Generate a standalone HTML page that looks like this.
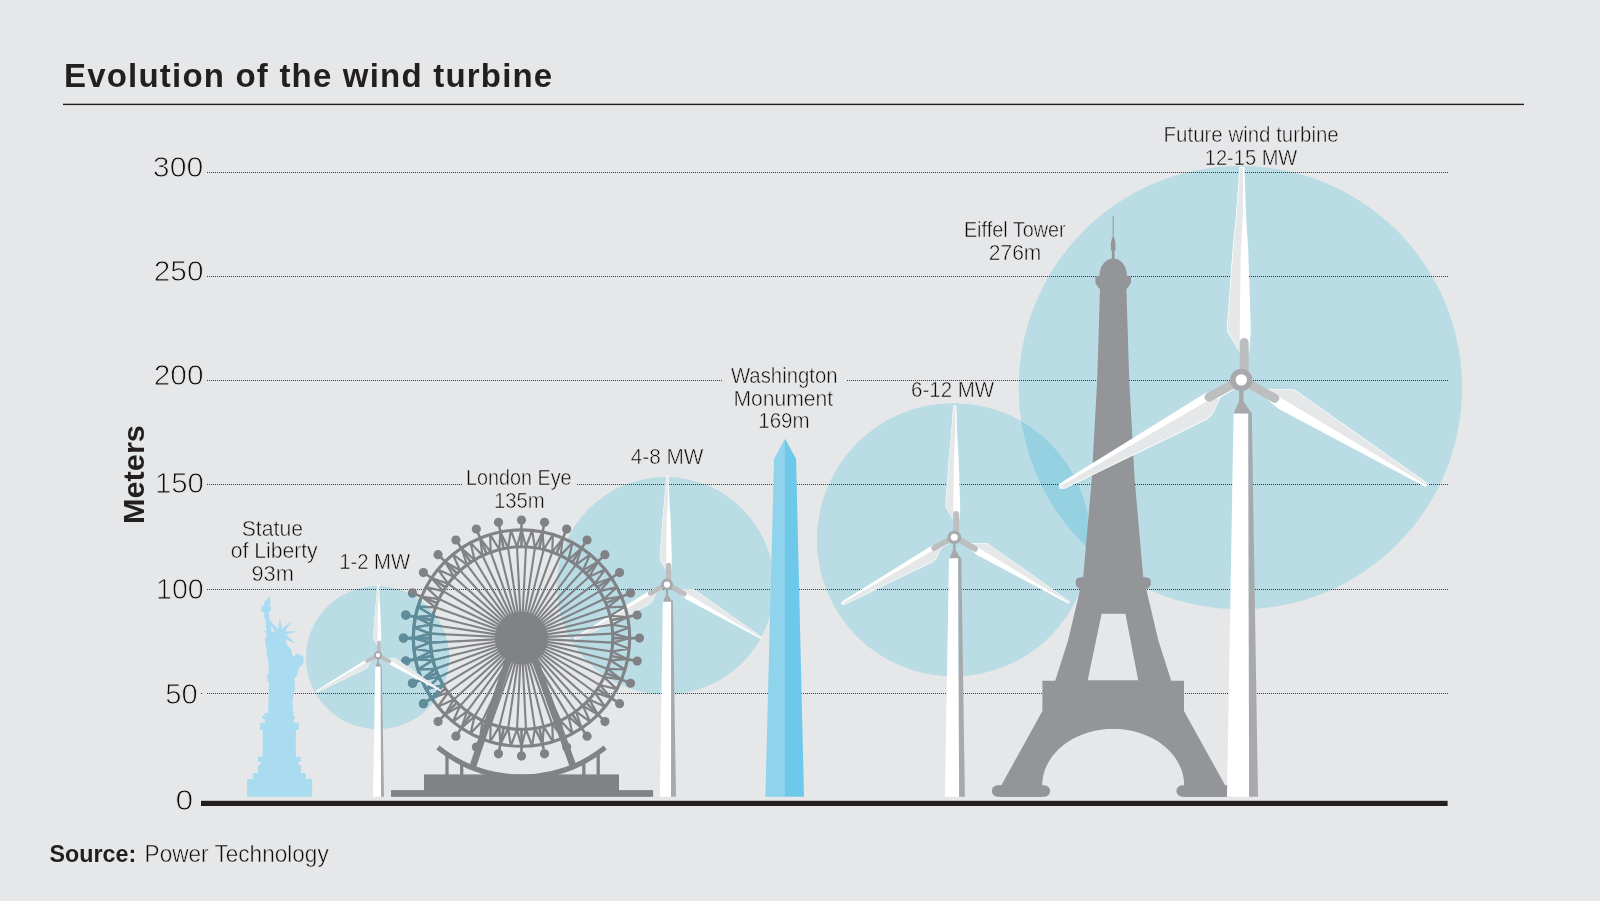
<!DOCTYPE html>
<html lang="en"><head><meta charset="utf-8"><title>Evolution of the wind turbine</title>
<style>
html,body{margin:0;padding:0;background:#e6e7e8;}
svg{display:block;}
.t{font-family:"Liberation Sans",sans-serif;fill:#231f20;}
.thin{fill:#0c0a0b;stroke:#e6e7e8;stroke-width:0.5px;}
.thin2{fill:#0c0a0b;stroke:#e6e7e8;stroke-width:0.9px;}
</style></head><body>
<svg width="1600" height="901" viewBox="0 0 1600 901">
<rect width="1600" height="901" fill="#e6e7e8"/>
<g style="isolation:isolate">
<rect width="1600" height="901" fill="#e6e7e8"/>
<rect x="63" y="103.7" width="1461" height="1.4" fill="#231f20"/>
<path d="M207 172.5 H1448 M207 276.5 H1448 M207 380.5 H722 M847 380.5 H1448 M207 484.5 H462 M577 484.5 H1448 M207 589.5 H1448 M201 693.5 H202 M207 693.5 H1448" stroke="#38383a" stroke-width="1" stroke-dasharray="1 1" fill="none" shape-rendering="crispEdges"/>
<circle cx="665.5" cy="585.8" r="108.7" fill="#cef3fc" style="mix-blend-mode:multiply"/>
<path d="M662.9 600.6 L671.2 600.6 L671 796.85 L659.9 796.85 Z" fill="#fff"/>
<path d="M671.2 600.6 L672.9 600.6 L676 796.85 L671 796.85 Z" fill="#a7a9ac"/>
<g transform="translate(667 584.5) scale(0.51)">
<path d="M-1.85 -212.8 L3.15 -212.8 L4.65 -165 L6.9 -130 L9.3 -60 L9.5 -48.5 L8 -27 L-1.5 -27 L-14.1 -48.5 L-14.1 -57 L-8.8 -130 L-5.35 -165 Z" fill="#fff"/>
<path d="M-1.2 -212 L1.65 -212 L1.65 -165 L-0.5 -130 L-1.5 -58 L-1.5 -27.5 L-13.4 -48.7 L-13.4 -57 L-8.1 -130 L-4.65 -165 Z" fill="#e6e7e8"/>
<path d="M26.6 9.3 L52.3 9.3 L56.9 12 L186.9 103.6 L184.3 107 L37.5 29.1 L24.3 18.2 Z" fill="#fff"/>
<path d="M26.6 9.8 L52.1 9.8 L56.6 12.5 L186.6 104 L185.4 105.4 L37.5 16.5 Z" fill="#e6e7e8"/>
<path d="M-6.4 9.3 L-35.9 13.1 L-182.3 104.2 L-181.9 108.8 L-176.6 108.8 L-34.4 39.9 L-29 34.5 L-20.4 17.4 Z" fill="#fff"/>
<path d="M-181.2 106.6 L-176.9 108.1 L-34.8 39.2 L-29.6 34 L-21 17.8 L-35.9 22 Z" fill="#e6e7e8"/>
<path d="M2.9 -8 L2.9 -37.5 M8 4 L33.5 18.5 M-8 4 L-32.3 17.3" stroke="#bcbec0" stroke-width="10.17" stroke-linecap="round" fill="none"/>
<path d="M-2.2 9 L2.2 9 L2.2 21 L10.4 33.6 L-7.8 33.6 L-2.2 21 Z" fill="#a7a9ac"/>
<circle r="8.9" fill="#fff" stroke="#a7a9ac" stroke-width="5.72"/>
</g>
<g fill="#808285" stroke="#808285">
<path d="M521.5 638.1 L525.98 546.91 M521.5 638.1 L534.9 547.79 M521.5 638.1 L543.68 549.54 M521.5 638.1 L552.26 552.14 M521.5 638.1 L560.54 555.57 M521.5 638.1 L568.44 559.79 M521.5 638.1 L575.89 564.77 M521.5 638.1 L582.81 570.45 M521.5 638.1 L589.15 576.79 M521.5 638.1 L594.83 583.71 M521.5 638.1 L599.81 591.16 M521.5 638.1 L604.03 599.06 M521.5 638.1 L607.46 607.34 M521.5 638.1 L610.06 615.92 M521.5 638.1 L611.81 624.7 M521.5 638.1 L612.69 633.62 M521.5 638.1 L612.69 642.58 M521.5 638.1 L611.81 651.5 M521.5 638.1 L610.06 660.28 M521.5 638.1 L607.46 668.86 M521.5 638.1 L604.03 677.14 M521.5 638.1 L599.81 685.04 M521.5 638.1 L594.83 692.49 M521.5 638.1 L589.15 699.41 M521.5 638.1 L582.81 705.75 M521.5 638.1 L575.89 711.43 M521.5 638.1 L568.44 716.41 M521.5 638.1 L560.54 720.63 M521.5 638.1 L552.26 724.06 M521.5 638.1 L543.68 726.66 M521.5 638.1 L534.9 728.41 M521.5 638.1 L525.98 729.29 M521.5 638.1 L517.02 729.29 M521.5 638.1 L508.1 728.41 M521.5 638.1 L499.32 726.66 M521.5 638.1 L490.74 724.06 M521.5 638.1 L482.46 720.63 M521.5 638.1 L474.56 716.41 M521.5 638.1 L467.11 711.43 M521.5 638.1 L460.19 705.75 M521.5 638.1 L453.85 699.41 M521.5 638.1 L448.17 692.49 M521.5 638.1 L443.19 685.04 M521.5 638.1 L438.97 677.14 M521.5 638.1 L435.54 668.86 M521.5 638.1 L432.94 660.28 M521.5 638.1 L431.19 651.5 M521.5 638.1 L430.31 642.58 M521.5 638.1 L430.31 633.62 M521.5 638.1 L431.19 624.7 M521.5 638.1 L432.94 615.92 M521.5 638.1 L435.54 607.34 M521.5 638.1 L438.97 599.06 M521.5 638.1 L443.19 591.16 M521.5 638.1 L448.17 583.71 M521.5 638.1 L453.85 576.79 M521.5 638.1 L460.19 570.45 M521.5 638.1 L467.11 564.77 M521.5 638.1 L474.56 559.79 M521.5 638.1 L482.46 555.57 M521.5 638.1 L490.74 552.14 M521.5 638.1 L499.32 549.54 M521.5 638.1 L508.1 547.79 M521.5 638.1 L517.02 546.91" stroke-width="2.1" fill="none"/>
<circle cx="521.5" cy="638.1" r="108.2" fill="none" stroke-width="3.1"/>
<circle cx="521.5" cy="638.1" r="91.3" fill="none" stroke-width="3.1"/>
<path d="M521.5 529.9 L525.98 546.91 L532.11 530.42 M532.11 530.42 L534.9 547.79 L542.61 531.98 M542.61 531.98 L543.68 549.54 L552.91 534.56 M552.91 534.56 L552.26 552.14 L562.91 538.14 M562.91 538.14 L560.54 555.57 L572.51 542.68 M572.51 542.68 L568.44 559.79 L581.61 548.13 M581.61 548.13 L575.89 564.77 L590.14 554.46 M590.14 554.46 L582.81 570.45 L598.01 561.59 M598.01 561.59 L589.15 576.79 L605.14 569.46 M605.14 569.46 L594.83 583.71 L611.47 577.99 M611.47 577.99 L599.81 591.16 L616.92 587.09 M616.92 587.09 L604.03 599.06 L621.46 596.69 M621.46 596.69 L607.46 607.34 L625.04 606.69 M625.04 606.69 L610.06 615.92 L627.62 616.99 M627.62 616.99 L611.81 624.7 L629.18 627.49 M629.18 627.49 L612.69 633.62 L629.7 638.1 M629.7 638.1 L612.69 642.58 L629.18 648.71 M629.18 648.71 L611.81 651.5 L627.62 659.21 M627.62 659.21 L610.06 660.28 L625.04 669.51 M625.04 669.51 L607.46 668.86 L621.46 679.51 M621.46 679.51 L604.03 677.14 L616.92 689.11 M616.92 689.11 L599.81 685.04 L611.47 698.21 M611.47 698.21 L594.83 692.49 L605.14 706.74 M605.14 706.74 L589.15 699.41 L598.01 714.61 M598.01 714.61 L582.81 705.75 L590.14 721.74 M590.14 721.74 L575.89 711.43 L581.61 728.07 M581.61 728.07 L568.44 716.41 L572.51 733.52 M572.51 733.52 L560.54 720.63 L562.91 738.06 M562.91 738.06 L552.26 724.06 L552.91 741.64 M552.91 741.64 L543.68 726.66 L542.61 744.22 M542.61 744.22 L534.9 728.41 L532.11 745.78 M532.11 745.78 L525.98 729.29 L521.5 746.3 M521.5 746.3 L517.02 729.29 L510.89 745.78 M510.89 745.78 L508.1 728.41 L500.39 744.22 M500.39 744.22 L499.32 726.66 L490.09 741.64 M490.09 741.64 L490.74 724.06 L480.09 738.06 M480.09 738.06 L482.46 720.63 L470.49 733.52 M470.49 733.52 L474.56 716.41 L461.39 728.07 M461.39 728.07 L467.11 711.43 L452.86 721.74 M452.86 721.74 L460.19 705.75 L444.99 714.61 M444.99 714.61 L453.85 699.41 L437.86 706.74 M437.86 706.74 L448.17 692.49 L431.53 698.21 M431.53 698.21 L443.19 685.04 L426.08 689.11 M426.08 689.11 L438.97 677.14 L421.54 679.51 M421.54 679.51 L435.54 668.86 L417.96 669.51 M417.96 669.51 L432.94 660.28 L415.38 659.21 M415.38 659.21 L431.19 651.5 L413.82 648.71 M413.82 648.71 L430.31 642.58 L413.3 638.1 M413.3 638.1 L430.31 633.62 L413.82 627.49 M413.82 627.49 L431.19 624.7 L415.38 616.99 M415.38 616.99 L432.94 615.92 L417.96 606.69 M417.96 606.69 L435.54 607.34 L421.54 596.69 M421.54 596.69 L438.97 599.06 L426.08 587.09 M426.08 587.09 L443.19 591.16 L431.53 577.99 M431.53 577.99 L448.17 583.71 L437.86 569.46 M437.86 569.46 L453.85 576.79 L444.99 561.59 M444.99 561.59 L460.19 570.45 L452.86 554.46 M452.86 554.46 L467.11 564.77 L461.39 548.13 M461.39 548.13 L474.56 559.79 L470.49 542.68 M470.49 542.68 L482.46 555.57 L480.09 538.14 M480.09 538.14 L490.74 552.14 L490.09 534.56 M490.09 534.56 L499.32 549.54 L500.39 531.98 M500.39 531.98 L508.1 547.79 L510.89 530.42 M510.89 530.42 L517.02 546.91 L521.5 529.9" stroke-width="2.2" fill="none" stroke-linejoin="round"/>
<path d="M521.5 546.8 L521.5 520.1 M539.31 548.55 L544.52 522.37 M556.44 553.75 L566.66 529.08 M572.22 562.19 L587.06 539.99 M586.06 573.54 L604.94 554.66 M597.41 587.38 L619.61 572.54 M605.85 603.16 L630.52 592.94 M611.05 620.29 L637.23 615.08 M612.8 638.1 L639.5 638.1 M611.05 655.91 L637.23 661.12 M605.85 673.04 L630.52 683.26 M597.41 688.82 L619.61 703.66 M586.06 702.66 L604.94 721.54 M572.22 714.01 L587.06 736.21 M556.44 722.45 L566.66 747.12 M539.31 727.65 L544.52 753.83 M521.5 729.4 L521.5 756.1 M503.69 727.65 L498.48 753.83 M486.56 722.45 L476.34 747.12 M470.78 714.01 L455.94 736.21 M456.94 702.66 L438.06 721.54 M445.59 688.82 L423.39 703.66 M437.15 673.04 L412.48 683.26 M431.95 655.91 L405.77 661.12 M430.2 638.1 L403.5 638.1 M431.95 620.29 L405.77 615.08 M437.15 603.16 L412.48 592.94 M445.59 587.38 L423.39 572.54 M456.94 573.54 L438.06 554.66 M470.78 562.19 L455.94 539.99 M486.56 553.75 L476.34 529.08 M503.69 548.55 L498.48 522.37" stroke-width="2.6" fill="none"/>
<circle cx="521.5" cy="520.1" r="4.6" stroke="none"/>
<circle cx="544.52" cy="522.37" r="4.6" stroke="none"/>
<circle cx="566.66" cy="529.08" r="4.6" stroke="none"/>
<circle cx="587.06" cy="539.99" r="4.6" stroke="none"/>
<circle cx="604.94" cy="554.66" r="4.6" stroke="none"/>
<circle cx="619.61" cy="572.54" r="4.6" stroke="none"/>
<circle cx="630.52" cy="592.94" r="4.6" stroke="none"/>
<circle cx="637.23" cy="615.08" r="4.6" stroke="none"/>
<circle cx="639.5" cy="638.1" r="4.6" stroke="none"/>
<circle cx="637.23" cy="661.12" r="4.6" stroke="none"/>
<circle cx="630.52" cy="683.26" r="4.6" stroke="none"/>
<circle cx="619.61" cy="703.66" r="4.6" stroke="none"/>
<circle cx="604.94" cy="721.54" r="4.6" stroke="none"/>
<circle cx="587.06" cy="736.21" r="4.6" stroke="none"/>
<circle cx="566.66" cy="747.12" r="4.6" stroke="none"/>
<circle cx="544.52" cy="753.83" r="4.6" stroke="none"/>
<circle cx="521.5" cy="756.1" r="4.6" stroke="none"/>
<circle cx="498.48" cy="753.83" r="4.6" stroke="none"/>
<circle cx="476.34" cy="747.12" r="4.6" stroke="none"/>
<circle cx="455.94" cy="736.21" r="4.6" stroke="none"/>
<circle cx="438.06" cy="721.54" r="4.6" stroke="none"/>
<circle cx="423.39" cy="703.66" r="4.6" stroke="none"/>
<circle cx="412.48" cy="683.26" r="4.6" stroke="none"/>
<circle cx="405.77" cy="661.12" r="4.6" stroke="none"/>
<circle cx="403.5" cy="638.1" r="4.6" stroke="none"/>
<circle cx="405.77" cy="615.08" r="4.6" stroke="none"/>
<circle cx="412.48" cy="592.94" r="4.6" stroke="none"/>
<circle cx="423.39" cy="572.54" r="4.6" stroke="none"/>
<circle cx="438.06" cy="554.66" r="4.6" stroke="none"/>
<circle cx="455.94" cy="539.99" r="4.6" stroke="none"/>
<circle cx="476.34" cy="529.08" r="4.6" stroke="none"/>
<circle cx="498.48" cy="522.37" r="4.6" stroke="none"/>
<circle cx="521.5" cy="638.1" r="26.5" stroke="none"/>
<path d="M513 646.1 L473 766 M530 646.1 L573 766" stroke-width="6.8" fill="none"/>
<path d="M437.85 747.54 A133.5 133.5 0 0 0 605.15 747.54" stroke-width="5.2" fill="none"/>
<path d="M447 755 V776 M461.7 762 V776 M583.8 762 V776 M598.2 755 V776" stroke-width="3.3" fill="none"/>
<rect x="424" y="774.4" width="195" height="17" stroke="none"/>
<rect x="391" y="790.1" width="262.1" height="6.75" stroke="none"/>
</g>
<path d="M247.09 796.84 L247.09 778.98 L252.96 778.98 L252.96 773.11 L258.06 773.11 L258.06 764.95 L260.61 764.95 L260.61 761.63 L258.06 761.63 L258.06 756.79 L262.65 756.79 L262.65 730 L260.1 730 L260.1 722.86 L264.95 722.86 L264.95 719.03 L262.14 719.03 L262.14 715.97 L264.44 715.97 L264.44 713.16 L268.27 712.65 L268.27 705 L268.78 692.24 L268.87 682.12 L267.2 680.46 L267.2 675.46 L268.87 672.13 L268.31 658.81 L266.65 655.48 L266.65 648.82 L265.21 644.38 L265.21 637.72 L266.32 636.61 L266.32 632.73 L263.1 631.62 L266.32 630.51 L265.54 618.86 L264.21 618.3 L264.21 612.75 L261.1 610.53 L261.1 608.31 L262.21 606.09 L264.21 605.54 L264.21 601.65 L267.2 599.43 L267.54 596.88 L269.98 598.32 L270.87 603.32 L269.09 605.54 L270.87 606.65 L270.87 611.09 L268.31 612.75 L269.76 615.53 L269.09 619.41 L278.3 629.4 L279.74 617.19 L282.19 628.85 L291.62 621.08 L284.96 631.62 L297.72 631.29 L286.07 634.4 L295.5 643.83 L286.07 639.39 L286.07 643.27 L288.29 646.6 L291.07 648.82 L292.18 655.48 L293.84 656.59 L296.61 653.82 L299.39 654.37 L303.83 657.15 L303.05 663.25 L298.83 668.25 L297.17 675.46 L294.4 678.24 L294.95 689.89 L293.78 692.24 L292.5 702.45 L293.27 712.65 L293.78 715.97 L295.82 717.76 L293.78 719.8 L293.78 722.86 L298.88 722.86 L298.88 730 L295.82 730 L295.82 756.79 L300.66 756.79 L300.66 761.63 L298.37 761.63 L298.37 764.95 L300.92 764.95 L300.92 773.11 L306.02 773.11 L306.02 778.98 L312.14 778.98 L312.14 796.84 Z M271.09 626.07 L275.08 631.73 L271.53 631.73 Z" fill-rule="evenodd" fill="#a9dcf1"/>
<clipPath id="c1"><circle cx="377.6" cy="657.6" r="71.6"/></clipPath>
<circle cx="377.6" cy="657.6" r="71.6" fill="#cef3fc" style="mix-blend-mode:multiply"/>
<g clip-path="url(#c1)">
<g fill="#5f8c9b" stroke="#5f8c9b">
<path d="M521.5 638.1 L525.98 546.91 M521.5 638.1 L534.9 547.79 M521.5 638.1 L543.68 549.54 M521.5 638.1 L552.26 552.14 M521.5 638.1 L560.54 555.57 M521.5 638.1 L568.44 559.79 M521.5 638.1 L575.89 564.77 M521.5 638.1 L582.81 570.45 M521.5 638.1 L589.15 576.79 M521.5 638.1 L594.83 583.71 M521.5 638.1 L599.81 591.16 M521.5 638.1 L604.03 599.06 M521.5 638.1 L607.46 607.34 M521.5 638.1 L610.06 615.92 M521.5 638.1 L611.81 624.7 M521.5 638.1 L612.69 633.62 M521.5 638.1 L612.69 642.58 M521.5 638.1 L611.81 651.5 M521.5 638.1 L610.06 660.28 M521.5 638.1 L607.46 668.86 M521.5 638.1 L604.03 677.14 M521.5 638.1 L599.81 685.04 M521.5 638.1 L594.83 692.49 M521.5 638.1 L589.15 699.41 M521.5 638.1 L582.81 705.75 M521.5 638.1 L575.89 711.43 M521.5 638.1 L568.44 716.41 M521.5 638.1 L560.54 720.63 M521.5 638.1 L552.26 724.06 M521.5 638.1 L543.68 726.66 M521.5 638.1 L534.9 728.41 M521.5 638.1 L525.98 729.29 M521.5 638.1 L517.02 729.29 M521.5 638.1 L508.1 728.41 M521.5 638.1 L499.32 726.66 M521.5 638.1 L490.74 724.06 M521.5 638.1 L482.46 720.63 M521.5 638.1 L474.56 716.41 M521.5 638.1 L467.11 711.43 M521.5 638.1 L460.19 705.75 M521.5 638.1 L453.85 699.41 M521.5 638.1 L448.17 692.49 M521.5 638.1 L443.19 685.04 M521.5 638.1 L438.97 677.14 M521.5 638.1 L435.54 668.86 M521.5 638.1 L432.94 660.28 M521.5 638.1 L431.19 651.5 M521.5 638.1 L430.31 642.58 M521.5 638.1 L430.31 633.62 M521.5 638.1 L431.19 624.7 M521.5 638.1 L432.94 615.92 M521.5 638.1 L435.54 607.34 M521.5 638.1 L438.97 599.06 M521.5 638.1 L443.19 591.16 M521.5 638.1 L448.17 583.71 M521.5 638.1 L453.85 576.79 M521.5 638.1 L460.19 570.45 M521.5 638.1 L467.11 564.77 M521.5 638.1 L474.56 559.79 M521.5 638.1 L482.46 555.57 M521.5 638.1 L490.74 552.14 M521.5 638.1 L499.32 549.54 M521.5 638.1 L508.1 547.79 M521.5 638.1 L517.02 546.91" stroke-width="2.1" fill="none"/>
<circle cx="521.5" cy="638.1" r="108.2" fill="none" stroke-width="3.1"/>
<circle cx="521.5" cy="638.1" r="91.3" fill="none" stroke-width="3.1"/>
<path d="M521.5 529.9 L525.98 546.91 L532.11 530.42 M532.11 530.42 L534.9 547.79 L542.61 531.98 M542.61 531.98 L543.68 549.54 L552.91 534.56 M552.91 534.56 L552.26 552.14 L562.91 538.14 M562.91 538.14 L560.54 555.57 L572.51 542.68 M572.51 542.68 L568.44 559.79 L581.61 548.13 M581.61 548.13 L575.89 564.77 L590.14 554.46 M590.14 554.46 L582.81 570.45 L598.01 561.59 M598.01 561.59 L589.15 576.79 L605.14 569.46 M605.14 569.46 L594.83 583.71 L611.47 577.99 M611.47 577.99 L599.81 591.16 L616.92 587.09 M616.92 587.09 L604.03 599.06 L621.46 596.69 M621.46 596.69 L607.46 607.34 L625.04 606.69 M625.04 606.69 L610.06 615.92 L627.62 616.99 M627.62 616.99 L611.81 624.7 L629.18 627.49 M629.18 627.49 L612.69 633.62 L629.7 638.1 M629.7 638.1 L612.69 642.58 L629.18 648.71 M629.18 648.71 L611.81 651.5 L627.62 659.21 M627.62 659.21 L610.06 660.28 L625.04 669.51 M625.04 669.51 L607.46 668.86 L621.46 679.51 M621.46 679.51 L604.03 677.14 L616.92 689.11 M616.92 689.11 L599.81 685.04 L611.47 698.21 M611.47 698.21 L594.83 692.49 L605.14 706.74 M605.14 706.74 L589.15 699.41 L598.01 714.61 M598.01 714.61 L582.81 705.75 L590.14 721.74 M590.14 721.74 L575.89 711.43 L581.61 728.07 M581.61 728.07 L568.44 716.41 L572.51 733.52 M572.51 733.52 L560.54 720.63 L562.91 738.06 M562.91 738.06 L552.26 724.06 L552.91 741.64 M552.91 741.64 L543.68 726.66 L542.61 744.22 M542.61 744.22 L534.9 728.41 L532.11 745.78 M532.11 745.78 L525.98 729.29 L521.5 746.3 M521.5 746.3 L517.02 729.29 L510.89 745.78 M510.89 745.78 L508.1 728.41 L500.39 744.22 M500.39 744.22 L499.32 726.66 L490.09 741.64 M490.09 741.64 L490.74 724.06 L480.09 738.06 M480.09 738.06 L482.46 720.63 L470.49 733.52 M470.49 733.52 L474.56 716.41 L461.39 728.07 M461.39 728.07 L467.11 711.43 L452.86 721.74 M452.86 721.74 L460.19 705.75 L444.99 714.61 M444.99 714.61 L453.85 699.41 L437.86 706.74 M437.86 706.74 L448.17 692.49 L431.53 698.21 M431.53 698.21 L443.19 685.04 L426.08 689.11 M426.08 689.11 L438.97 677.14 L421.54 679.51 M421.54 679.51 L435.54 668.86 L417.96 669.51 M417.96 669.51 L432.94 660.28 L415.38 659.21 M415.38 659.21 L431.19 651.5 L413.82 648.71 M413.82 648.71 L430.31 642.58 L413.3 638.1 M413.3 638.1 L430.31 633.62 L413.82 627.49 M413.82 627.49 L431.19 624.7 L415.38 616.99 M415.38 616.99 L432.94 615.92 L417.96 606.69 M417.96 606.69 L435.54 607.34 L421.54 596.69 M421.54 596.69 L438.97 599.06 L426.08 587.09 M426.08 587.09 L443.19 591.16 L431.53 577.99 M431.53 577.99 L448.17 583.71 L437.86 569.46 M437.86 569.46 L453.85 576.79 L444.99 561.59 M444.99 561.59 L460.19 570.45 L452.86 554.46 M452.86 554.46 L467.11 564.77 L461.39 548.13 M461.39 548.13 L474.56 559.79 L470.49 542.68 M470.49 542.68 L482.46 555.57 L480.09 538.14 M480.09 538.14 L490.74 552.14 L490.09 534.56 M490.09 534.56 L499.32 549.54 L500.39 531.98 M500.39 531.98 L508.1 547.79 L510.89 530.42 M510.89 530.42 L517.02 546.91 L521.5 529.9" stroke-width="2.2" fill="none" stroke-linejoin="round"/>
<path d="M521.5 546.8 L521.5 520.1 M539.31 548.55 L544.52 522.37 M556.44 553.75 L566.66 529.08 M572.22 562.19 L587.06 539.99 M586.06 573.54 L604.94 554.66 M597.41 587.38 L619.61 572.54 M605.85 603.16 L630.52 592.94 M611.05 620.29 L637.23 615.08 M612.8 638.1 L639.5 638.1 M611.05 655.91 L637.23 661.12 M605.85 673.04 L630.52 683.26 M597.41 688.82 L619.61 703.66 M586.06 702.66 L604.94 721.54 M572.22 714.01 L587.06 736.21 M556.44 722.45 L566.66 747.12 M539.31 727.65 L544.52 753.83 M521.5 729.4 L521.5 756.1 M503.69 727.65 L498.48 753.83 M486.56 722.45 L476.34 747.12 M470.78 714.01 L455.94 736.21 M456.94 702.66 L438.06 721.54 M445.59 688.82 L423.39 703.66 M437.15 673.04 L412.48 683.26 M431.95 655.91 L405.77 661.12 M430.2 638.1 L403.5 638.1 M431.95 620.29 L405.77 615.08 M437.15 603.16 L412.48 592.94 M445.59 587.38 L423.39 572.54 M456.94 573.54 L438.06 554.66 M470.78 562.19 L455.94 539.99 M486.56 553.75 L476.34 529.08 M503.69 548.55 L498.48 522.37" stroke-width="2.6" fill="none"/>
<circle cx="521.5" cy="520.1" r="4.6" stroke="none"/>
<circle cx="544.52" cy="522.37" r="4.6" stroke="none"/>
<circle cx="566.66" cy="529.08" r="4.6" stroke="none"/>
<circle cx="587.06" cy="539.99" r="4.6" stroke="none"/>
<circle cx="604.94" cy="554.66" r="4.6" stroke="none"/>
<circle cx="619.61" cy="572.54" r="4.6" stroke="none"/>
<circle cx="630.52" cy="592.94" r="4.6" stroke="none"/>
<circle cx="637.23" cy="615.08" r="4.6" stroke="none"/>
<circle cx="639.5" cy="638.1" r="4.6" stroke="none"/>
<circle cx="637.23" cy="661.12" r="4.6" stroke="none"/>
<circle cx="630.52" cy="683.26" r="4.6" stroke="none"/>
<circle cx="619.61" cy="703.66" r="4.6" stroke="none"/>
<circle cx="604.94" cy="721.54" r="4.6" stroke="none"/>
<circle cx="587.06" cy="736.21" r="4.6" stroke="none"/>
<circle cx="566.66" cy="747.12" r="4.6" stroke="none"/>
<circle cx="544.52" cy="753.83" r="4.6" stroke="none"/>
<circle cx="521.5" cy="756.1" r="4.6" stroke="none"/>
<circle cx="498.48" cy="753.83" r="4.6" stroke="none"/>
<circle cx="476.34" cy="747.12" r="4.6" stroke="none"/>
<circle cx="455.94" cy="736.21" r="4.6" stroke="none"/>
<circle cx="438.06" cy="721.54" r="4.6" stroke="none"/>
<circle cx="423.39" cy="703.66" r="4.6" stroke="none"/>
<circle cx="412.48" cy="683.26" r="4.6" stroke="none"/>
<circle cx="405.77" cy="661.12" r="4.6" stroke="none"/>
<circle cx="403.5" cy="638.1" r="4.6" stroke="none"/>
<circle cx="405.77" cy="615.08" r="4.6" stroke="none"/>
<circle cx="412.48" cy="592.94" r="4.6" stroke="none"/>
<circle cx="423.39" cy="572.54" r="4.6" stroke="none"/>
<circle cx="438.06" cy="554.66" r="4.6" stroke="none"/>
<circle cx="455.94" cy="539.99" r="4.6" stroke="none"/>
<circle cx="476.34" cy="529.08" r="4.6" stroke="none"/>
<circle cx="498.48" cy="522.37" r="4.6" stroke="none"/>
<circle cx="521.5" cy="638.1" r="26.5" stroke="none"/>
<path d="M513 646.1 L473 766 M530 646.1 L573 766" stroke-width="6.8" fill="none"/>
<path d="M437.85 747.54 A133.5 133.5 0 0 0 605.15 747.54" stroke-width="5.2" fill="none"/>
<path d="M447 755 V776 M461.7 762 V776 M583.8 762 V776 M598.2 755 V776" stroke-width="3.3" fill="none"/>
<rect x="424" y="774.4" width="195" height="17" stroke="none"/>
<rect x="391" y="790.1" width="262.1" height="6.75" stroke="none"/>
</g>
</g>
<path d="M375.3 666.4 L380.7 666.4 L381 796.85 L373 796.85 Z" fill="#fff"/>
<path d="M380.7 666.4 L381.8 666.4 L384 796.85 L381 796.85 Z" fill="#a7a9ac"/>
<g transform="translate(378 655.2) scale(0.34)">
<path d="M-1.85 -212.8 L3.15 -212.8 L4.65 -165 L6.9 -130 L9.3 -60 L9.5 -48.5 L8 -27 L-1.5 -27 L-14.1 -48.5 L-14.1 -57 L-8.8 -130 L-5.35 -165 Z" fill="#fff"/>
<path d="M-1.2 -212 L1.65 -212 L1.65 -165 L-0.5 -130 L-1.5 -58 L-1.5 -27.5 L-13.4 -48.7 L-13.4 -57 L-8.1 -130 L-4.65 -165 Z" fill="#e6e7e8"/>
<path d="M26.6 9.3 L52.3 9.3 L56.9 12 L186.9 103.6 L184.3 107 L37.5 29.1 L24.3 18.2 Z" fill="#fff"/>
<path d="M26.6 9.8 L52.1 9.8 L56.6 12.5 L186.6 104 L185.4 105.4 L37.5 16.5 Z" fill="#e6e7e8"/>
<path d="M-6.4 9.3 L-35.9 13.1 L-182.3 104.2 L-181.9 108.8 L-176.6 108.8 L-34.4 39.9 L-29 34.5 L-20.4 17.4 Z" fill="#fff"/>
<path d="M-181.2 106.6 L-176.9 108.1 L-34.8 39.2 L-29.6 34 L-21 17.8 L-35.9 22 Z" fill="#e6e7e8"/>
<path d="M2.9 -8 L2.9 -37.5 M8 4 L33.5 18.5 M-8 4 L-32.3 17.3" stroke="#bcbec0" stroke-width="11.25" stroke-linecap="round" fill="none"/>
<path d="M-2.2 9 L2.2 9 L2.2 21 L10.4 33.6 L-7.8 33.6 L-2.2 21 Z" fill="#a7a9ac"/>
<circle r="9.24" fill="#fff" stroke="#a7a9ac" stroke-width="5.94"/>
</g>
<path d="M785 438.8 L774 459.1 L765.4 796.85 L785 796.85 Z" fill="#8fd3ed"/>
<path d="M785 438.8 L796.1 459.1 L804 796.85 L785 796.85 Z" fill="#6dc8ea"/>
<circle cx="953.5" cy="539.8" r="136.6" fill="#cef3fc" style="mix-blend-mode:multiply"/>
<circle cx="1240.4" cy="387.6" r="221.7" fill="#cef3fc" style="mix-blend-mode:multiply"/>
<path d="M949 557.9 L958.2 557.9 L959.1 796.85 L944.9 796.85 Z" fill="#fff"/>
<path d="M958.2 557.9 L961.3 557.9 L964.9 796.85 L959.1 796.85 Z" fill="#a7a9ac"/>
<g transform="translate(954.3 537.3) scale(0.62)">
<path d="M-1.85 -212.8 L3.15 -212.8 L4.65 -165 L6.9 -130 L9.3 -60 L9.5 -48.5 L8 -27 L-1.5 -27 L-14.1 -48.5 L-14.1 -57 L-8.8 -130 L-5.35 -165 Z" fill="#fff"/>
<path d="M-1.2 -212 L1.65 -212 L1.65 -165 L-0.5 -130 L-1.5 -58 L-1.5 -27.5 L-13.4 -48.7 L-13.4 -57 L-8.1 -130 L-4.65 -165 Z" fill="#e6e7e8"/>
<path d="M26.6 9.3 L52.3 9.3 L56.9 12 L186.9 103.6 L184.3 107 L37.5 29.1 L24.3 18.2 Z" fill="#fff"/>
<path d="M26.6 9.8 L52.1 9.8 L56.6 12.5 L186.6 104 L185.4 105.4 L37.5 16.5 Z" fill="#e6e7e8"/>
<path d="M-6.4 9.3 L-35.9 13.1 L-182.3 104.2 L-181.9 108.8 L-176.6 108.8 L-34.4 39.9 L-29 34.5 L-20.4 17.4 Z" fill="#fff"/>
<path d="M-181.2 106.6 L-176.9 108.1 L-34.8 39.2 L-29.6 34 L-21 17.8 L-35.9 22 Z" fill="#e6e7e8"/>
<path d="M2.9 -8 L2.9 -37.5 M8 4 L33.5 18.5 M-8 4 L-32.3 17.3" stroke="#bcbec0" stroke-width="9.45" stroke-linecap="round" fill="none"/>
<path d="M-2.2 9 L2.2 9 L2.2 21 L10.4 33.6 L-7.8 33.6 L-2.2 21 Z" fill="#a7a9ac"/>
<circle r="8.4" fill="#fff" stroke="#a7a9ac" stroke-width="5.4"/>
</g>
<path d="M1113.7 216 L1113.7 237 L1114.4 238 L1115.5 243 L1115.5 250 L1114.5 251 L1114.5 258.5 L1118.2 259.5 L1122.2 262.5 L1125.2 267 L1126.7 272 L1126.7 275.5 L1131 276.5 L1131 283 L1127.7 288 L1126.4 289 L1129.2 380 L1134.7 480 L1143.2 577 L1149.2 578 L1150.7 580.5 L1150.7 585 L1148.2 588 L1146.2 589 L1158.2 640 L1171.2 680.7 L1184 680.7 L1184 711 L1225.2 785.5 L1225.2 796.85 L1184.2 796.85 L1184.2 785.3 L1183.93 780.38 L1183.12 775.51 L1181.78 770.7 L1179.92 766.01 L1177.55 761.46 L1174.69 757.1 L1171.36 752.95 L1167.59 749.05 L1163.4 745.42 L1158.84 742.1 L1153.92 739.1 L1148.7 736.46 L1143.21 734.18 L1137.48 732.3 L1131.58 730.82 L1125.53 729.76 L1119.39 729.11 L1113.2 728.9 L1107.01 729.11 L1100.87 729.76 L1094.82 730.82 L1088.92 732.3 L1083.19 734.18 L1077.7 736.46 L1072.48 739.1 L1067.56 742.1 L1063 745.42 L1058.81 749.05 L1055.04 752.95 L1051.71 757.1 L1048.85 761.46 L1046.48 766.01 L1044.62 770.7 L1043.28 775.51 L1042.47 780.38 L1042.2 785.3 L1042.2 796.85 L1001.2 796.85 L1001.2 785.5 L1042.4 711 L1042.4 680.7 L1055.2 680.7 L1068.2 640 L1080.2 589 L1078.2 588 L1075.7 585 L1075.7 580.5 L1077.2 578 L1083.2 577 L1091.7 480 L1097.2 380 L1100 289 L1098.7 288 L1095.4 283 L1095.4 276.5 L1099.7 275.5 L1099.7 272 L1101.2 267 L1104.2 262.5 L1108.2 259.5 L1111.9 258.5 L1111.9 251 L1110.9 250 L1110.9 243 L1112 238 L1112.7 237 L1112.7 216 Z M1101.6 613.7 L1125.4 613.7 L1138.2 680.2 L1087.7 680.2 Z" fill-rule="evenodd" fill="#939598"/>
<rect x="991.8" y="785.3" width="58.4" height="11.4" rx="5.7" fill="#939598"/>
<rect x="1176.4" y="785.3" width="58.4" height="11.4" rx="5.7" fill="#939598"/>
<path d="M1233.6 413.3 L1248.3 413.3 L1249.1 796.85 L1227 796.85 Z" fill="#fff"/>
<path d="M1248.3 413.3 L1251.8 413.3 L1258 796.85 L1249.1 796.85 Z" fill="#a7a9ac"/>
<g transform="translate(1241.3 379.9) scale(1)">
<path d="M-1.85 -212.8 L3.15 -212.8 L4.65 -165 L6.9 -130 L9.3 -60 L9.5 -48.5 L8 -27 L-1.5 -27 L-14.1 -48.5 L-14.1 -57 L-8.8 -130 L-5.35 -165 Z" fill="#fff"/>
<path d="M-1.2 -212 L1.65 -212 L1.65 -165 L-0.5 -130 L-1.5 -58 L-1.5 -27.5 L-13.4 -48.7 L-13.4 -57 L-8.1 -130 L-4.65 -165 Z" fill="#e6e7e8"/>
<path d="M26.6 9.3 L52.3 9.3 L56.9 12 L186.9 103.6 L184.3 107 L37.5 29.1 L24.3 18.2 Z" fill="#fff"/>
<path d="M26.6 9.8 L52.1 9.8 L56.6 12.5 L186.6 104 L185.4 105.4 L37.5 16.5 Z" fill="#e6e7e8"/>
<path d="M-6.4 9.3 L-35.9 13.1 L-182.3 104.2 L-181.9 108.8 L-176.6 108.8 L-34.4 39.9 L-29 34.5 L-20.4 17.4 Z" fill="#fff"/>
<path d="M-181.2 106.6 L-176.9 108.1 L-34.8 39.2 L-29.6 34 L-21 17.8 L-35.9 22 Z" fill="#e6e7e8"/>
<path d="M2.9 -8 L2.9 -37.5 M8 4 L33.5 18.5 M-8 4 L-32.3 17.3" stroke="#bcbec0" stroke-width="9" stroke-linecap="round" fill="none"/>
<path d="M-2.2 9 L2.2 9 L2.2 21 L10.4 33.6 L-7.8 33.6 L-2.2 21 Z" fill="#a7a9ac"/>
<circle r="8.4" fill="#fff" stroke="#a7a9ac" stroke-width="5.4"/>
</g>
</g>
<rect x="201" y="800.8" width="1246.6" height="5.2" fill="#231f20"/>
<g opacity="0.999">
<text x="64" y="86.5" font-size="33" text-anchor="start" font-weight="bold" class="t" letter-spacing="1.2">Evolution of the wind turbine</text>
<text x="152.88" y="177.1" font-size="30" text-anchor="start" font-weight="normal" class="t thin2" textLength="50.42" lengthAdjust="spacingAndGlyphs">300</text>
<text x="153.8" y="281.1" font-size="30" text-anchor="start" font-weight="normal" class="t thin2" textLength="49.72" lengthAdjust="spacingAndGlyphs">250</text>
<text x="153.8" y="385.1" font-size="30" text-anchor="start" font-weight="normal" class="t thin2" textLength="49.72" lengthAdjust="spacingAndGlyphs">200</text>
<text x="154.91" y="492.9" font-size="30" text-anchor="start" font-weight="normal" class="t thin2" textLength="48.97" lengthAdjust="spacingAndGlyphs">150</text>
<text x="156.01" y="599.1" font-size="30" text-anchor="start" font-weight="normal" class="t thin2" textLength="47.7" lengthAdjust="spacingAndGlyphs">100</text>
<text x="165.27" y="704.1" font-size="30" text-anchor="start" font-weight="normal" class="t thin2" textLength="32.43" lengthAdjust="spacingAndGlyphs">50</text>
<text x="175.49" y="809.6" font-size="30" text-anchor="start" font-weight="normal" class="t thin2" textLength="17.69" lengthAdjust="spacingAndGlyphs">0</text>
<text x="241.71" y="535.5" font-size="21.2" text-anchor="start" font-weight="normal" class="t thin" textLength="61.36" lengthAdjust="spacingAndGlyphs">Statue</text>
<text x="230.65" y="558.3" font-size="21.2" text-anchor="start" font-weight="normal" class="t thin" textLength="87.04" lengthAdjust="spacingAndGlyphs">of Liberty</text>
<text x="251.4" y="581.3" font-size="21.2" text-anchor="start" font-weight="normal" class="t thin" textLength="42.45" lengthAdjust="spacingAndGlyphs">93m</text>
<text x="339.14" y="568.7" font-size="21.2" text-anchor="start" font-weight="normal" class="t thin" textLength="70.93" lengthAdjust="spacingAndGlyphs">1-2 MW</text>
<text x="465.9" y="484.6" font-size="21.2" text-anchor="start" font-weight="normal" class="t thin" textLength="105.7" lengthAdjust="spacingAndGlyphs">London Eye</text>
<text x="494.01" y="507.7" font-size="21.2" text-anchor="start" font-weight="normal" class="t thin" textLength="50.77" lengthAdjust="spacingAndGlyphs">135m</text>
<text x="630.7" y="464" font-size="21.2" text-anchor="start" font-weight="normal" class="t thin" textLength="72.76" lengthAdjust="spacingAndGlyphs">4-8 MW</text>
<text x="730.9" y="382.5" font-size="21.2" text-anchor="start" font-weight="normal" class="t thin" textLength="106.7" lengthAdjust="spacingAndGlyphs">Washington</text>
<text x="733.42" y="405.7" font-size="21.2" text-anchor="start" font-weight="normal" class="t thin" textLength="99.8" lengthAdjust="spacingAndGlyphs">Monument</text>
<text x="758.22" y="428.4" font-size="21.2" text-anchor="start" font-weight="normal" class="t thin" textLength="51.37" lengthAdjust="spacingAndGlyphs">169m</text>
<text x="911" y="397.4" font-size="21.2" text-anchor="start" font-weight="normal" class="t thin" textLength="83.2" lengthAdjust="spacingAndGlyphs">6-12 MW</text>
<text x="963.9" y="237.3" font-size="21.2" text-anchor="start" font-weight="normal" class="t thin" textLength="101.7" lengthAdjust="spacingAndGlyphs">Eiffel Tower</text>
<text x="988.8" y="260.2" font-size="21.2" text-anchor="start" font-weight="normal" class="t thin" textLength="52.51" lengthAdjust="spacingAndGlyphs">276m</text>
<text x="1163.59" y="141.8" font-size="21.2" text-anchor="start" font-weight="normal" class="t thin" textLength="175.11" lengthAdjust="spacingAndGlyphs">Future wind turbine</text>
<text x="1204.77" y="164.6" font-size="21.2" text-anchor="start" font-weight="normal" class="t thin" textLength="92.54" lengthAdjust="spacingAndGlyphs">12-15 MW</text>
<text x="49.47" y="862" font-size="24" text-anchor="start" font-weight="bold" class="t" textLength="86.77" lengthAdjust="spacingAndGlyphs">Source:</text>
<text x="144.6" y="862" font-size="24" text-anchor="start" font-weight="normal" class="t thin" textLength="184.1" lengthAdjust="spacingAndGlyphs">Power Technology</text>
<text transform="translate(144.4 524.05) rotate(-90)" font-size="30" font-weight="bold" class="t" textLength="98.95" lengthAdjust="spacingAndGlyphs">Meters</text>
</g>
</svg></body></html>
